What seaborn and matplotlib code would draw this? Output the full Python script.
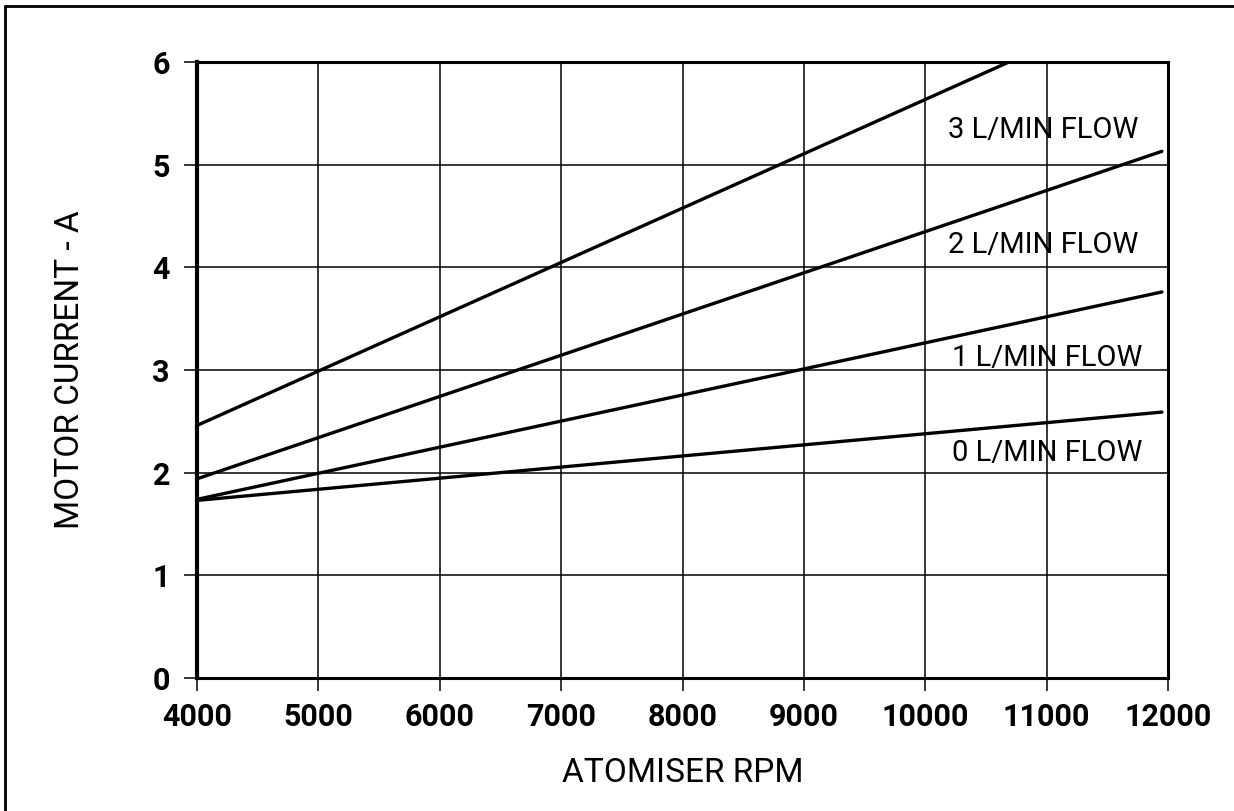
import pandas as pd
import numpy as np
import matplotlib
matplotlib.use("Agg")
import matplotlib.pyplot as plt
import seaborn as sns
from matplotlib.lines import Line2D

# Values
flow_labels = ['0 L/MIN FLOW', '1 L/MIN FLOW', '2 L/MIN FLOW', '3 L/MIN FLOW']
rpm_0 = [4000, 11950]
current_0 = [1.73, 2.59]
rpm_1 = [4000, 11950]
current_1 = [1.74, 3.76]
rpm_2 = [4000, 11950]
current_2 = [1.94, 5.13]
rpm_3 = [4000, 10690]
current_3 = [2.46, 6.0]

x_ticks = [4000, 5000, 6000, 7000, 8000, 9000, 10000, 11000, 12000]
y_ticks = [0, 1, 2, 3, 4, 5, 6]

rows = []
for lab, xs, ys in zip(flow_labels,
                       [rpm_0, rpm_1, rpm_2, rpm_3],
                       [current_0, current_1, current_2, current_3]):
    for x, y in zip(xs, ys):
        rows.append({'rpm': x, 'current': y, 'flow': lab})
df = pd.DataFrame(rows)

sns.set_style("white")
plt.rcParams['font.family'] = ['Roboto', 'DejaVu Sans']

fig = plt.figure(figsize=(12.34, 8.11), dpi=100)
ax = fig.add_axes([197 / 1234, 1 - 678 / 811, (1168 - 197) / 1234, (678 - 62) / 811])

sns.lineplot(data=df, x='rpm', y='current', hue='flow',
             palette=['black'] * 4, linewidth=2.4, legend=False, ax=ax)

ax.set_xlim(4000, 12000)
ax.set_ylim(0, 6)
ax.set_xticks(x_ticks)
ax.set_yticks(y_ticks)
ax.grid(True, color='black', linewidth=1.1)
ax.set_axisbelow(True)
for side in ['left', 'right', 'top', 'bottom']:
    ax.spines[side].set_color('black')
    ax.spines[side].set_linewidth(2.2)
ax.spines['left'].set_linewidth(3.0)

ax.tick_params(axis='both', direction='out', length=9.5, width=1.1,
               color='black', labelsize=22, labelcolor='black',
               bottom=True, left=True)
ax.tick_params(axis='x', pad=8)
ax.tick_params(axis='y', pad=10)
for t in ax.get_xticklabels() + ax.get_yticklabels():
    t.set_fontweight('bold')

ax.set_xlabel('ATOMISER RPM', fontsize=24, labelpad=18, color='black')
ax.set_ylabel('MOTOR CURRENT - A', fontsize=24, labelpad=48, color='black')

label_x = [10220, 10220, 10190, 10190]
label_y = [2.19, 3.12, 4.22, 5.34]
for lab, lx, ly in zip(flow_labels, label_x, label_y):
    ax.text(lx, ly, lab, fontsize=21, ha='left', va='center', color='black')

# outer page frame (top and left edges)
fig.add_artist(Line2D([5 / 1234, 1.0], [1 - 6 / 811, 1 - 6 / 811],
                      transform=fig.transFigure, color='black', linewidth=2))
fig.add_artist(Line2D([5 / 1234, 5 / 1234], [0, 1 - 6 / 811],
                      transform=fig.transFigure, color='black', linewidth=2))

fig.savefig('out.png', dpi=100)
